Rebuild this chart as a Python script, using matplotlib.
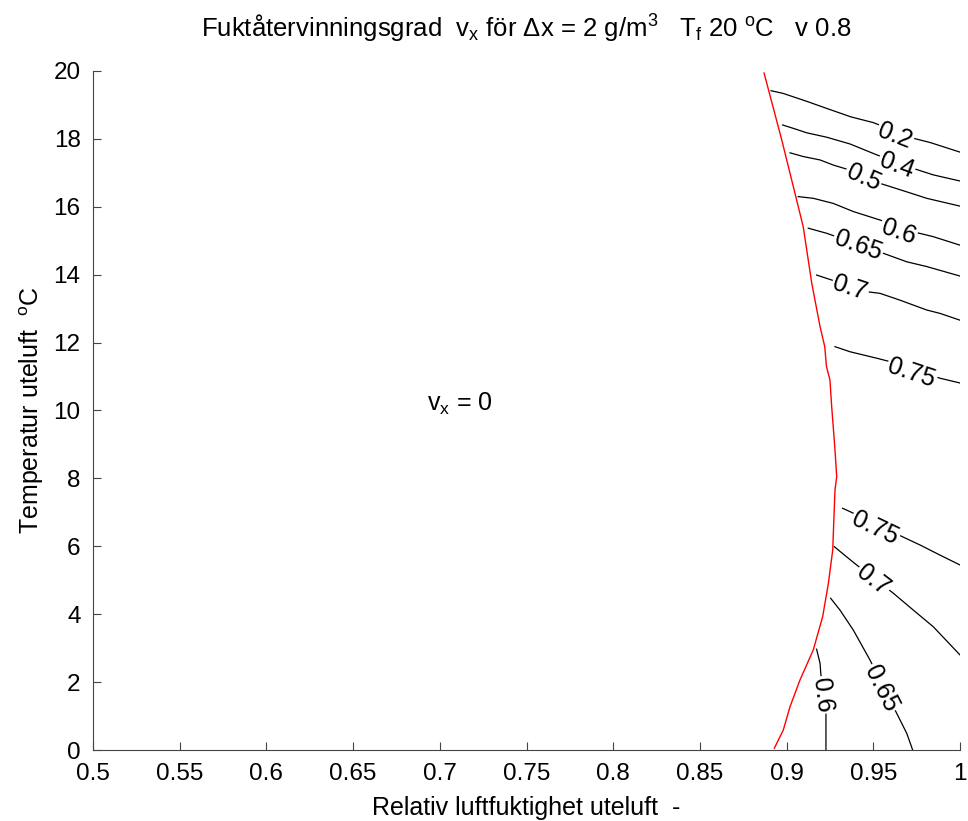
import numpy as np
import matplotlib.pyplot as plt

plt.rcParams['font.family'] = ['Liberation Sans', 'DejaVu Sans']
plt.rcParams['mathtext.fontset'] = 'custom'
plt.rcParams['mathtext.rm'] = 'Liberation Sans'
plt.rcParams['mathtext.it'] = 'Liberation Sans'
plt.rcParams['mathtext.default'] = 'regular'

# Gränslinje där vx blir > 0 (röd)
grans_x = [0.8870, 0.8972, 0.9039, 0.9096, 0.9125, 0.9145, 0.9193, 0.9220, 0.9230,
           0.9250, 0.9260, 0.9269, 0.9279, 0.9289, 0.9279, 0.9266, 0.9241, 0.9208,
           0.9154, 0.9077, 0.9020, 0.8981, 0.8929]
grans_y = [19.94, 17.97, 16.59, 15.41, 14.43, 13.75, 12.47, 11.88, 11.29,
           10.90, 10.11, 9.52, 8.84, 8.05, 7.66, 5.89, 4.91, 3.93,
           2.95, 2.06, 1.28, 0.59, 0.05]

# Konturlinjer för vx
k02_x = [0.891, 0.898, 0.912, 0.923, 0.937, 0.950, 0.973, 0.983, 1.0]
k02_y = [19.42, 19.34, 19.10, 18.90, 18.65, 18.48, 18.02, 17.89, 17.61]
k04_x = [0.8977, 0.9039, 0.9116, 0.9231, 0.9366, 0.9520, 0.9731, 0.9846, 1.0]
k04_y = [18.41, 18.31, 18.18, 18.05, 17.85, 17.53, 17.13, 16.94, 16.76]
k05_x = [0.9020, 0.9096, 0.9193, 0.9269, 0.9366, 0.9539, 0.9693, 0.9808, 1.0]
k05_y = [17.59, 17.48, 17.38, 17.23, 17.08, 16.69, 16.44, 16.25, 16.02]
k06_x = [0.9067, 0.9154, 0.9269, 0.9385, 0.9539, 0.9750, 0.9846, 1.0]
k06_y = [16.30, 16.25, 16.10, 15.86, 15.61, 15.24, 15.12, 14.87]
k065_x = [0.9125, 0.9231, 0.9558, 0.9693, 0.9808, 1.0]
k065_y = [15.37, 15.22, 14.63, 14.38, 14.24, 13.96]
k07_x = [0.9173, 0.9250, 0.9462, 0.9539, 0.9654, 0.9808, 0.9885, 1.0]
k07_y = [13.99, 13.86, 13.50, 13.45, 13.25, 12.96, 12.86, 12.66]
k075_x = [0.9279, 0.9366, 0.9520, 0.9596, 0.9885, 1.0]
k075_y = [11.88, 11.73, 11.54, 11.44, 10.95, 10.81]
k075b_x = [0.9323, 0.9366, 0.9673, 0.9769, 0.9885, 1.0]
k075b_y = [7.12, 7.02, 6.27, 6.04, 5.74, 5.45]
k07b_x = [0.9275, 0.9346, 0.9404, 0.9615, 0.9731, 0.9846, 1.0]
k07b_y = [5.99, 5.69, 5.45, 4.62, 4.12, 3.63, 2.80]
k065b_x = [0.9254, 0.9308, 0.9385, 0.9481, 0.9635, 0.9693, 0.9727]
k065b_y = [4.47, 4.12, 3.53, 2.65, 1.08, 0.49, 0.0]
k06b_x = [0.9173, 0.9193, 0.9197, 0.9227, 0.9227]
k06b_y = [2.97, 2.55, 2.26, 1.08, 0.0]

konturer = [
    ('0.2', k02_x, k02_y, 0.9625, 18.09),
    ('0.4', k04_x, k04_y, 0.9635, 17.23),
    ('0.5', k05_x, k05_y, 0.9442, 16.85),
    ('0.6', k06_x, k06_y, 0.9644, 15.27),
    ('0.65', k065_x, k065_y, 0.9412, 14.85),
    ('0.7', k07_x, k07_y, 0.9366, 13.60),
    ('0.75', k075_x, k075_y, 0.9721, 11.10),
    ('0.75', k075b_x, k075b_y, 0.9510, 6.53),
    ('0.7', k07b_x, k07b_y, 0.9500, 5.01),
    ('0.65', k065b_x, k065b_y, 0.9548, 1.82),
    ('0.6', k06b_x, k06b_y, 0.9208, 1.62),
]

x_ticks = [0.5, 0.55, 0.6, 0.65, 0.7, 0.75, 0.8, 0.85, 0.9, 0.95, 1.0]
x_ticklabels = ['0.5', '0.55', '0.6', '0.65', '0.7', '0.75', '0.8', '0.85', '0.9', '0.95', '1']
y_ticks = list(range(0, 21, 2))

fig = plt.figure(figsize=(9.68, 8.21), dpi=100)
ax = fig.add_axes([93 / 968, 71 / 821, 867 / 968, 679 / 821])
ax.set_xlim(0.5, 1.0)
ax.set_ylim(0, 20)

ax.plot(grans_x, grans_y, color='red', linewidth=1.0, zorder=3)

for niva, kx, ky, lx, ly in konturer:
    ax.plot(kx, ky, color='black', linewidth=0.9, zorder=2)
    # vinkel från närmaste segment i skärmkoordinater
    pts = ax.transData.transform(np.column_stack([kx, ky]))
    p = ax.transData.transform((lx, ly))
    mid = (pts[:-1] + pts[1:]) / 2
    i = np.argmin(np.hypot(mid[:, 0] - p[0], mid[:, 1] - p[1]))
    d = pts[i + 1] - pts[i]
    ang = np.degrees(np.arctan2(d[1], d[0]))
    if ang > 90:
        ang -= 180
    if ang < -90:
        ang += 180
    ax.text(lx, ly, niva, fontsize=18, rotation=ang, rotation_mode='anchor',
            ha='center', va='center', zorder=4,
            bbox=dict(facecolor='white', edgecolor='none', pad=1))

ax.text(0.7117, 10.2, 'v$_x$ = 0', fontsize=18, ha='center', va='center')

ax.set_xticks(x_ticks)
ax.set_xticklabels(x_ticklabels)
ax.set_yticks(y_ticks)
ax.tick_params(direction='in', length=6, width=0.8, colors='#444444',
               labelcolor='black')
ax.tick_params(axis='x', labelsize=17.5, pad=9)
ax.tick_params(axis='y', labelsize=17.5, pad=9)
for s in ['top', 'right']:
    ax.spines[s].set_visible(False)
for s in ['left', 'bottom']:
    ax.spines[s].set_color('#444444')
    ax.spines[s].set_linewidth(0.8)

ax.set_xlabel('Relativ luftfuktighet uteluft  -', fontsize=18, labelpad=8)
ax.set_ylabel('Temperatur uteluft  $^o$C', fontsize=18, labelpad=5)
ax.set_title('Fuktåtervinningsgrad  v$_x$ för Δx = 2 g/m$^3$   T$_f$ 20 $^o$C   v 0.8',
             fontsize=18.5, pad=24)

plt.savefig('out.png', dpi=100, facecolor='white')
